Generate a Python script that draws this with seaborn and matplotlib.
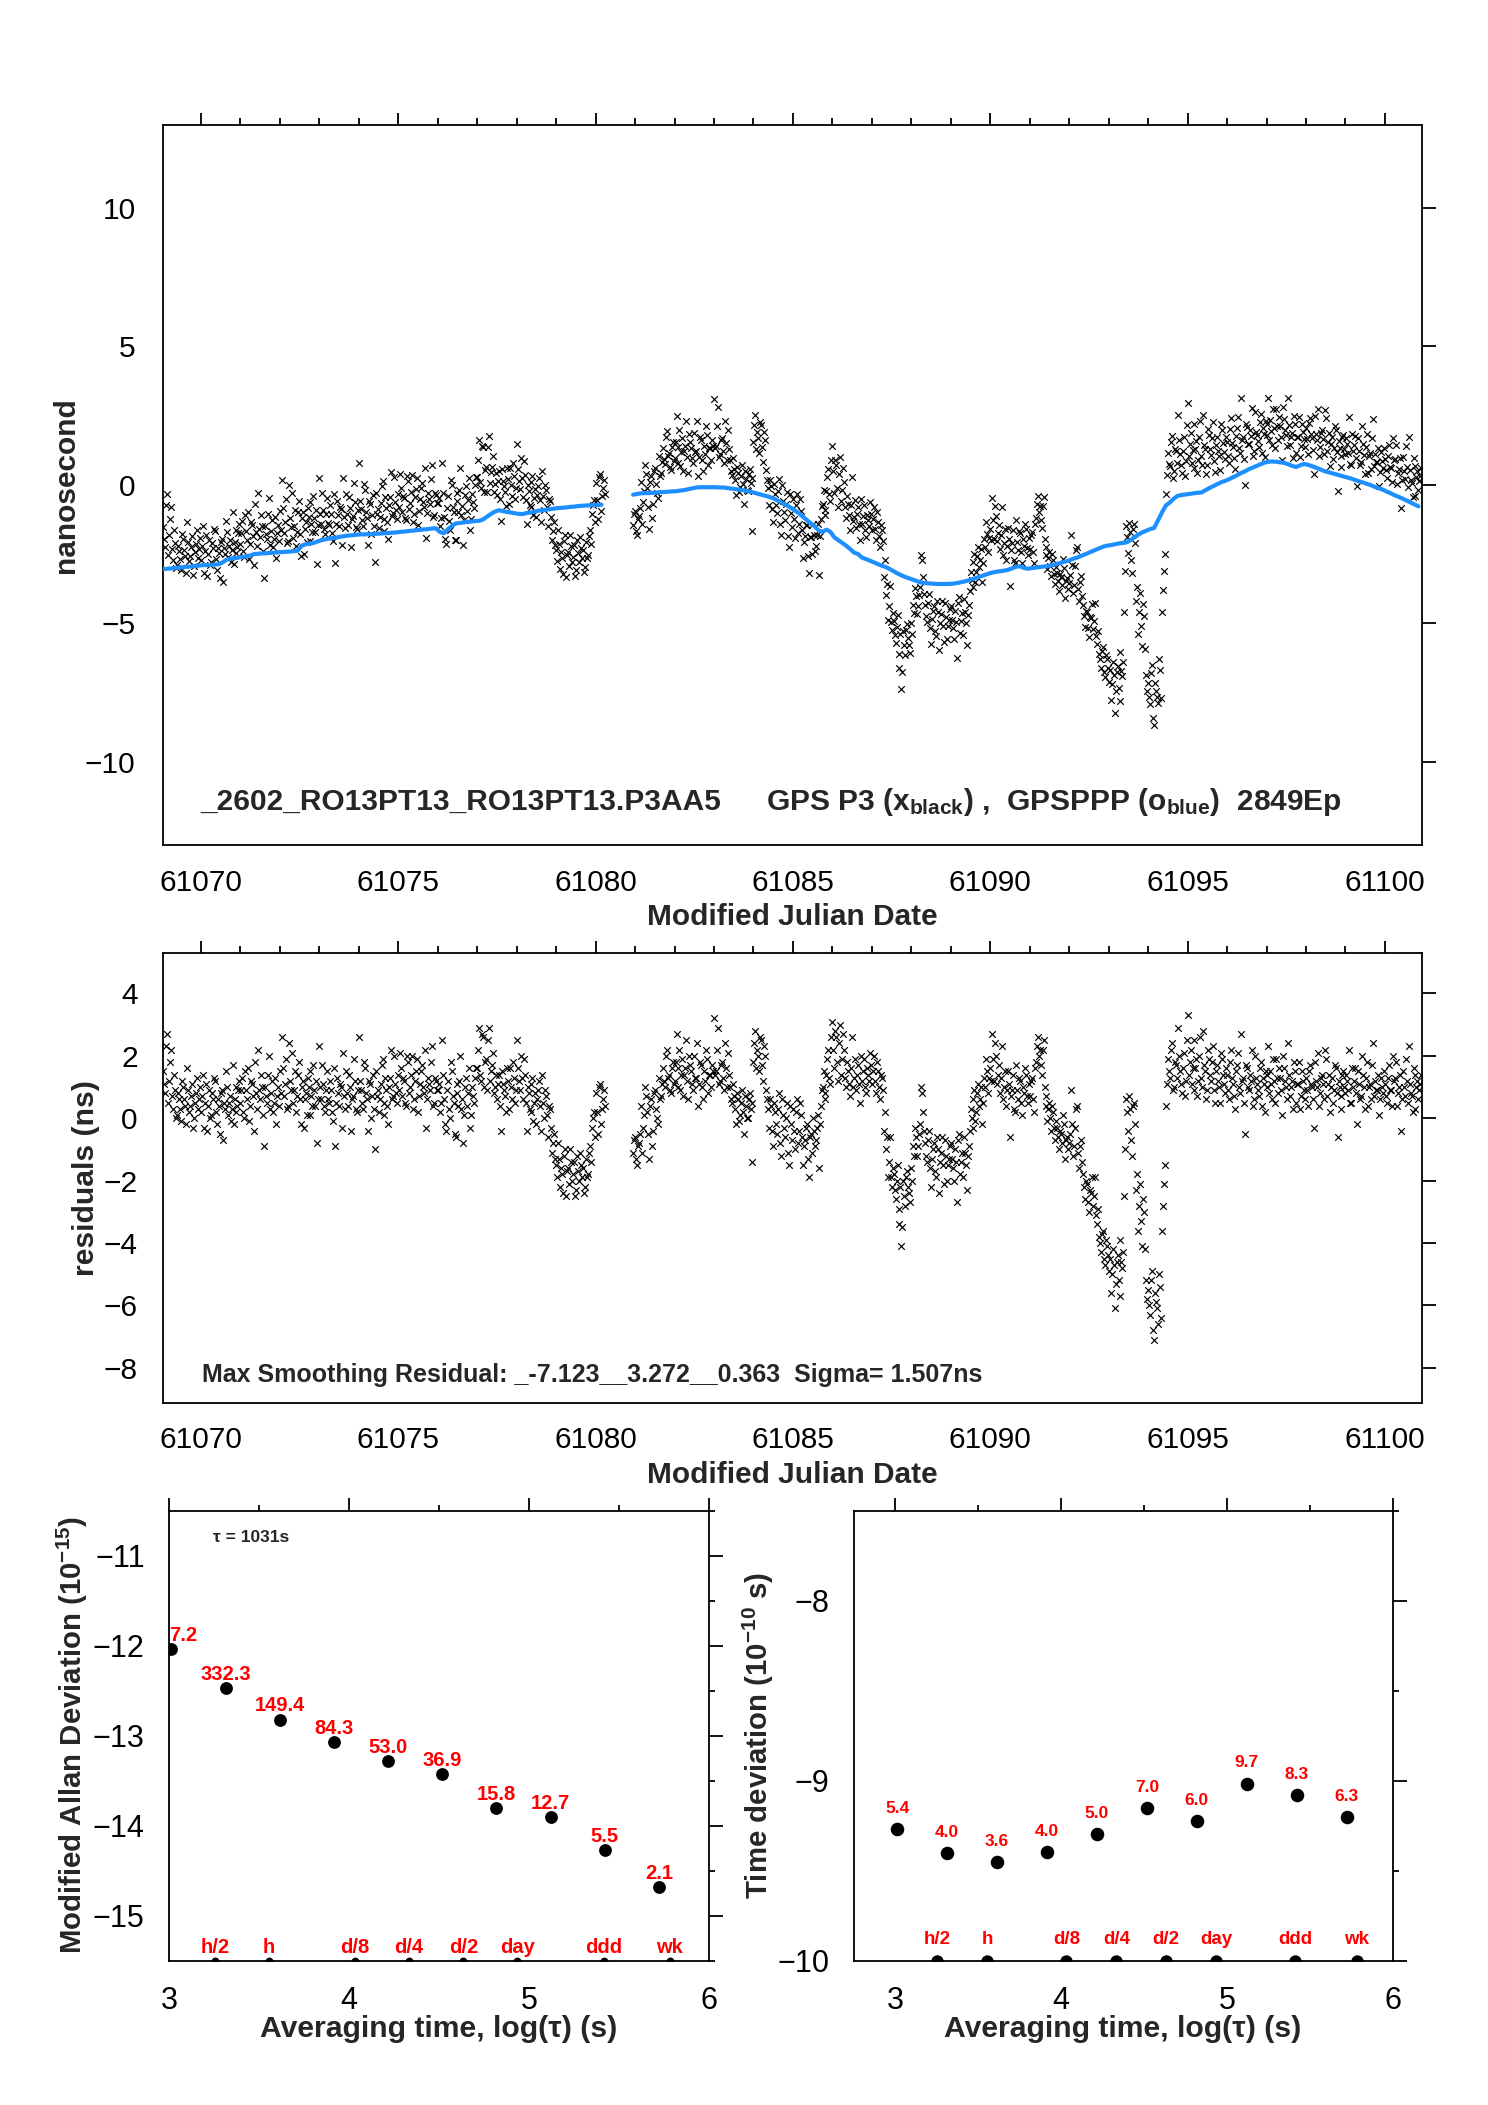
import numpy as np
import pandas as pd
import matplotlib
matplotlib.use("Agg")
import matplotlib.pyplot as plt
import seaborn as sns
from matplotlib.ticker import MultipleLocator, StrMethodFormatter

# ------------------------------------------------------------------ data
seg1_start = 61069.05      # MJD of first P3 epoch (before the gap)
seg2_start = 61080.95      # MJD of first P3 epoch (after the gap)
p3_step = 0.05             # day between epochs of one residual list
half_offset = 0.025        # the second residual list sits between the first
ppp_step = 0.10            # day between PPP epochs

# residuals (ns) = P3 - PPP, 20 epochs per day (list a)
resid_seg1 = [
    1.5, 0.8, 2.7, 1.2, 2.2, 0.3, 0.9, 0.1, 0.6, -0.1, 1.0, 0.4, 1.6, 0.2, 0.7, -0.3, 0.5, 1.3, 0.6,
    0.2, 1.4, 0.5, -0.4, 0.9, 0.1, 0.6, 1.2, -0.2, 0.4, 0.8, -0.7, 0.3, 1.0, 0.5, -0.1, 1.7, 0.6, 0.2, 0.9,
    0.5, 1.3, 0.0, 0.9, 1.6, 0.4, 1.1, -0.4, 0.8, 2.2, 0.6, 1.0, -0.9, 0.7, 1.4, 0.3, 1.2, 0.5, -0.2, 1.0,
    1.5, 2.6, 0.7, 1.9, 0.4, 1.2, 2.1, 0.9, 0.2, 1.4, 0.6, 1.0, -0.3, 0.8, 1.3, 0.1, 0.7, 1.7, 0.4, -0.8,
    2.3, 0.6, 1.1, 0.2, 1.5, 0.5, 0.9, -0.1, -0.9, 1.3, 0.4, 1.0, 2.1, 0.3, 0.8, 1.4, -0.4, 0.7, 1.2, 0.2,
    2.6, 0.9, 0.3, 1.6, 0.6, 1.2, 0.0, 1.4, -1.0, 0.7, 0.2, 1.1, 1.9, 0.5, 0.9, -0.2, 1.3, 0.6, 2.0, 0.8,
    1.4, 2.1, 0.7, 1.2, 0.4, 1.8, 1.0, 2.0, 0.6, 1.5, 0.2, 1.1, 1.7, 0.8, -0.3, 1.3, 0.9, 2.3, 0.5, 1.2,
    0.9, 0.2, 2.5, 0.6, -0.4, 1.2, 0.0, 1.5, 0.5, -0.6, 0.8, 1.2, 0.3, -0.8, 1.0, 0.4, 1.6, 0.1, 0.7, 1.3,
    1.6, 2.9, 1.2, 2.6, 1.8, 0.9, 2.9, 1.5, 2.1, 1.0, 0.6, 1.4, -0.4, 1.1, 0.7, 1.6, 0.3, 1.0, 1.8, 0.5,
    2.5, 1.2, 2.0, 0.6, 1.4, -0.4, 0.8, 0.2, 1.3, 0.5, -0.2, 0.9, 0.4, 1.4, 0.0, 0.7, -0.6, 0.3, -1.1, -0.5,
    -1.5, -0.8, -2.2, -1.8, -1.2, -2.5, -1.6, -1.0, -2.0, -1.4, -2.3, -1.7, -1.1, -1.9, -2.4, -1.3, -1.8, -0.9, -0.3, 0.2,
    0.8, -0.5, 1.1, 0.3, 0.9,
]
resid_seg2 = [
    -1.1, -0.6, -1.5, -0.8, 0.4, -0.3, 1.0, 0.2, -1.3, 0.6, -0.4, 0.9, 0.0, 1.3, 0.7, 1.6, 1.0, 2.2, 1.4, 0.8, 1.8,
    1.2, 2.7, 1.6, 0.9, 1.9, 1.4, 2.5, 0.6, 1.7, 1.1, 2.0, 1.3, 0.4, 1.8, 1.0, 1.5, 2.2, 0.8, 1.4, 1.7,
    3.2, 1.5, 2.9, 1.2, 1.8, 0.9, 1.6, 2.1, 1.0, 0.5, 0.7, -0.2, 0.6, 0.1, 0.9, -0.5, 0.4, 0.0, 0.8, -1.4,
    1.8, 2.8, 2.2, 1.5, 2.5, 1.2, 2.0, 0.6, -0.3, 0.4, -0.9, 0.2, -0.5, 0.8, -1.2, 0.1, -0.6, 0.5, -1.5, -0.2,
    0.3, -1.0, 0.6, -0.4, 0.1, -1.5, -0.7, -0.2, -1.9, -0.5, 0.0, -0.9, -0.3, -1.6, 0.4, 1.0, 0.6, 1.4, 2.2, 1.1,
    3.1, 1.6, 2.6, 1.2, 3.0, 1.9, 2.2, 1.0, 1.5, 0.7, 2.6, 1.3, 0.9, 1.7, 0.5, 1.2, 1.9, 0.8, 1.4, 2.1,
    1.1, 2.0, 0.8, 1.5, 0.6, 1.3, -0.4, -1.0, -1.9, -0.6, -2.2, -1.8, -2.6, -1.5, -3.4, -4.1, -2.0, -2.8, -1.7, -2.4,
    -1.6, -0.9, -0.3, -1.2, -0.5, 1.0, 0.2, -0.8, -1.4, -0.4, -2.2, -1.0, -1.7, -0.6, -2.4, -1.1, -1.5, -0.7, -2.0, -1.3,
    -0.8, -1.6, -1.0, -2.7, -0.5, -1.4, -1.9, -1.1, -2.3, -0.9, 0.3, -0.3, 0.9, 0.2, 1.1, 0.6, -0.2, 1.3, 1.9, 0.8,
    1.6, 2.7, 1.2, 2.0, 1.4, 0.8, 2.3, 1.0, 0.4, 1.5, -0.6, 0.9, 0.3, 1.7, 0.6, 1.2, 0.1, 0.8, 1.4, 0.5,
    0.7, 1.3, 0.2, 1.8, 2.6, 2.2, 1.4, 2.5, 0.4, -0.1, 0.5, -0.4, 0.2, -0.7, -0.3, -1.0, -0.5, 0.1, -1.3, -0.6,
    -0.8, 0.9, -1.2, -0.3, 0.4, -1.6, -0.7, -1.8, -2.6, -2.1, -3.0, -2.4, -2.8, -1.9, -3.4, -3.8, -4.3, -3.6, -4.7, -4.1,
    -4.9, -5.6, -4.2, -6.1, -4.6, -5.2, -3.9, -4.8, -2.5, 0.6, -0.4, 0.3, -1.2, 0.5, -2.3, -3.6, -2.1, -4.1, -3.0, -5.2,
    -5.5, -6.3, -4.9, -7.1, -5.9, -6.6, -5.4, -3.6, -2.1, 0.4, 1.9, 1.3, 2.4, 1.0, 1.7, 2.9, 1.5, 0.8, 2.1, 1.2,
    3.3, 1.8, 1.1, 2.5, 1.6, 0.7, 2.0, 1.3, 2.8, 1.5, 0.9, 1.9, 1.2, 2.3, 0.5, 1.7, 1.0, 2.1, 1.4, 0.8,
    1.4, 0.6, 2.2, 1.1, 0.3, 1.7, 1.0, 2.7, 1.3, -0.5, 1.6, 0.9, 1.2, 0.4, 2.0, 1.1, 0.7, 1.8, 1.3, 0.2,
    1.0, 2.3, 1.5, 0.6, 1.2, 1.9, 0.8, 1.3, 0.1, 1.6, 1.0, 2.4, 0.7, 1.2, 1.8, 0.5, 1.1, 0.3, 1.5, 0.9,
    1.3, 0.4, 1.7, 1.0, -0.3, 1.2, 2.1, 0.8, 1.4, 0.6, 1.9, 1.1, 0.2, 1.3, 0.9, 1.6, -0.6, 1.0, 0.7, 1.5,
    0.8, 1.2, 2.2, 0.5, 1.0, 1.6, -0.2, 1.1, 0.7, 1.4, 0.3, 1.8, 1.0, 0.6, 2.4, 1.2, 0.9, 0.1, 1.3, 0.8,
    1.1, 0.5, 1.7, 0.9, 2.0, 1.3, 0.4, 1.0, -0.4, 1.5, 0.7, 1.2, 2.3, 0.8, 0.2, 1.4, 1.0, 0.6, 1.1,
]
# residuals (ns), list b (epochs half a step later)
resid2_seg1 = [
    1.1, 2.3, 0.5, 1.8, 0.7, 1.4, 0.0, 0.8, 0.3, 1.2, 0.6, -0.2, 0.9, 0.4, 1.1, 0.0, 0.8, 0.3, 1.0,
    0.7, -0.3, 1.1, 0.4, 0.0, 0.8, 1.3, 0.2, 0.6, -0.5, 0.9, 0.5, 1.5, 0.1, 0.7, 0.3, -0.2, 1.0, 0.4, 1.2,
    0.9, 0.2, 1.5, 0.6, -0.1, 1.2, 0.7, 1.8, 0.3, 0.9, 1.4, 0.1, 1.0, 0.5, 2.0, 0.8, 0.2, 1.3, 0.7, 0.4,
    0.8, 1.6, 1.1, 0.3, 2.4, 0.9, 0.5, 1.5, 0.7, 1.8, -0.2, 1.2, 0.6, 0.1, 1.0, 1.5, 0.4, 0.9, 1.2, 0.6,
    1.0, 1.7, 0.4, 0.9, 0.6, 1.2, 0.2, 1.6, 0.5, 0.8, 1.1, -0.3, 0.7, 1.5, 0.4, 1.0, 0.6, 1.9, 0.3, 0.9,
    1.2, 0.5, 1.8, 0.8, -0.4, 1.1, 0.7, 0.3, 1.5, 0.9, 0.6, 1.7, 0.1, 1.3, 0.4, 1.0, 2.2, 0.7, 1.1, 0.5,
    0.9, 1.6, 1.3, 0.5, 2.0, 0.8, 1.4, 0.3, 1.2, 1.9, 0.7, 1.5, 1.0, 2.2, 0.6, 1.1, 1.8, 0.4, 1.3, 0.9,
    1.1, 0.5, 1.4, -0.2, 0.9, 0.3, 1.8, 0.7, -0.5, 1.1, 0.4, 2.0, 0.6, 0.1, 1.3, 0.8, -0.3, 1.0, 0.5, 1.6,
    2.2, 1.4, 2.7, 1.0, 1.9, 2.5, 1.2, 1.7, 0.8, 1.4, 1.1, 0.4, 1.5, 0.9, 0.2, 1.2, 1.6, 0.6, 1.3, 0.9,
    1.6, 0.9, 1.3, 1.9, 0.5, 1.0, 0.3, 1.1, -0.1, 0.8, 0.6, 1.2, -0.4, 0.5, 0.9, 0.1, 0.4, -0.3, -0.8, -1.3,
    -1.9, -1.3, -1.6, -2.4, -1.0, -1.7, -2.1, -1.4, -1.8, -2.5, -1.2, -2.0, -1.5, -1.6, -2.2, -1.9, -1.1, -1.4, 0.0, -0.6,
    0.2, 1.0, -0.2, 0.6, 0.4,
]
resid2_seg2 = [
    -0.7, -1.3, -0.9, -0.5, -1.1, 0.1, 0.7, -0.5, 0.4, -0.9, 0.8, 0.3, -0.2, 0.6, 1.1, 1.2, 2.0, 1.3, 0.9, 1.6, 1.1,
    1.8, 1.0, 2.2, 1.4, 0.7, 1.6, 1.2, 2.0, 1.5, 0.9, 1.3, 2.4, 1.1, 1.7, 0.6, 1.2, 1.9, 1.4, 1.0, 1.5,
    1.4, 2.2, 1.1, 1.7, 1.3, 2.4, 1.0, 1.4, 0.6, 1.1, 0.3, 0.8, -0.1, 0.5, 0.2, 0.7, 0.0, 0.6, 0.3, 0.5,
    2.4, 1.6, 2.0, 2.6, 1.7, 2.3, 0.9, 0.3, 0.6, -0.4, 0.5, -0.2, 0.3, -0.8, 0.6, -0.3, 0.0, -1.1, 0.4, -0.7,
    -0.4, 0.2, -0.8, 0.5, -0.6, -0.9, -0.3, -1.3, -0.6, -1.1, -0.4, -0.7, 0.1, -0.2, 0.9, 1.5, 0.8, 1.9, 1.3, 2.6,
    2.2, 2.8, 1.8, 2.4, 1.4, 2.7, 1.3, 1.8, 1.1, 1.6, 1.0, 1.9, 1.4, 1.1, 2.0, 1.5, 1.0, 1.6, 1.2, 1.7,
    1.5, 1.2, 1.8, 1.0, 1.4, 0.9, 0.2, -0.6, -1.4, -1.9, -1.6, -2.3, -2.0, -2.9, -2.2, -3.5, -2.5, -1.9, -2.2, -2.7,
    -2.0, -1.2, -0.6, -0.9, -0.2, 0.8, -0.4, -1.2, -0.7, -1.6, -1.3, -0.8, -1.9, -1.0, -1.4, -0.6, -2.1, -1.2, -1.5, -0.9,
    -1.3, -2.0, -1.4, -0.7, -1.8, -1.1, -0.6, -1.5, -1.2, -0.4, 0.0, 0.6, -0.1, 0.8, 0.4, 1.0, 0.5, 1.0, 1.5, 1.3,
    1.2, 1.9, 2.4, 1.1, 1.7, 1.3, 0.6, 1.5, 0.9, 1.1, 0.7, 1.4, 0.2, 0.9, 1.3, 0.5, 1.0, 1.6, 0.7, 1.1,
    1.2, 0.6, 1.6, 2.3, 2.0, 1.7, 2.2, 1.0, 0.7, 0.3, 0.0, 0.4, -0.3, -0.1, -0.6, -0.4, -0.8, -0.2, -0.7, -1.0,
    -0.5, -0.2, -0.9, 0.3, -1.1, -0.9, -1.4, -2.2, -2.0, -2.7, -2.3, -1.9, -2.5, -3.1, -2.9, -4.0, -3.7, -4.5, -3.9, -4.4,
    -4.5, -5.0, -4.7, -5.3, -4.4, -5.7, -4.6, -4.3, -1.0, 0.2, 0.7, -0.7, 0.4, -0.2, -1.8, -2.8, -3.3, -2.6, -4.2, -5.8,
    -6.0, -5.2, -6.8, -5.6, -6.1, -5.0, -6.4, -2.8, -1.5, 1.1, 1.5, 2.2, 0.9, 1.8, 1.3, 2.0, 1.1, 1.6, 0.7, 2.5,
    1.4, 2.2, 1.6, 0.9, 1.9, 1.2, 2.6, 1.0, 1.7, 0.6, 2.2, 1.4, 1.8, 0.9, 1.5, 1.2, 0.5, 1.9, 1.1, 1.6,
    0.9, 1.8, 1.3, 0.7, 1.5, 2.1, 0.8, 1.2, 0.5, 1.7, 1.0, 1.4, 2.2, 0.6, 1.3, 0.9, 1.6, 0.4, 1.1, 1.5,
    1.4, 0.8, 1.1, 1.9, 0.5, 1.3, 1.6, 0.9, 2.0, 1.2, 0.6, 1.4, 1.0, 0.3, 1.5, 1.1, 1.8, 0.7, 1.2, 0.6,
    0.9, 1.5, 1.1, 0.6, 1.8, 1.0, 0.4, 1.3, 1.1, 2.2, 0.7, 1.4, 1.0, 0.5, 1.7, 0.8, 1.2, 0.3, 1.4, 1.0,
    1.4, 0.9, 0.5, 1.6, 1.2, 0.8, 1.5, 0.6, 2.0, 1.0, 1.3, 0.4, 1.1, 1.7, 0.7, 0.9, 1.4, 0.6, 1.0, 1.5,
    0.7, 1.3, 0.9, 0.4, 1.2, 1.8, 0.8, 1.4, 0.6, 1.0, 1.9, 0.5, 1.1, 0.7, 1.6, 0.3, 1.2, 0.9, 1.4,
]

# GPSPPP (ns), 10 epochs per day
ppp_seg1 = [
    -3.04, -3.03, -3.02, -3.00, -2.99, -2.97, -2.96, -2.95, -2.93, -2.92,
    -2.90, -2.90, -2.89, -2.88, -2.87, -2.80, -2.70, -2.67, -2.65, -2.63,
    -2.60, -2.58, -2.55, -2.50, -2.49, -2.48, -2.47, -2.46, -2.45, -2.44,
    -2.43, -2.42, -2.41, -2.40, -2.38, -2.20, -2.15, -2.12, -2.10, -2.05,
    -2.00, -1.97, -1.94, -1.92, -1.90, -1.87, -1.85, -1.83, -1.82, -1.80,
    -1.79, -1.79, -1.78, -1.78, -1.77, -1.76, -1.75, -1.74, -1.73, -1.72,
    -1.70, -1.69, -1.67, -1.66, -1.64, -1.63, -1.61, -1.60, -1.58, -1.57,
    -1.70, -1.75, -1.62, -1.50, -1.40, -1.38, -1.36, -1.34, -1.33, -1.31,
    -1.30, -1.25, -1.15, -1.05, -0.97, -0.92, -0.95, -0.98, -1.00, -1.03,
    -1.05, -1.06, -1.02, -1.00, -0.97, -0.94, -0.92, -0.90, -0.88, -0.86,
    -0.84, -0.83, -0.82, -0.80, -0.79, -0.77, -0.76, -0.75, -0.74, -0.74,
    -0.73, -0.72,
]
ppp_seg2 = [
    -0.36, -0.33, -0.31, -0.30, -0.30, -0.29, -0.28, -0.27, -0.26, -0.25, -0.24,
    -0.23, -0.21, -0.19, -0.16, -0.13, -0.10, -0.09, -0.09, -0.09, -0.09,
    -0.09, -0.10, -0.10, -0.12, -0.14, -0.16, -0.18, -0.20, -0.23, -0.26,
    -0.30, -0.34, -0.38, -0.42, -0.46, -0.52, -0.60, -0.68, -0.75, -0.83,
    -0.93, -1.03, -1.15, -1.27, -1.40, -1.50, -1.65, -1.70, -1.62, -1.70,
    -1.90, -2.00, -2.10, -2.20, -2.32, -2.45, -2.50, -2.63, -2.68, -2.74,
    -2.80, -2.86, -2.92, -2.97, -3.04, -3.12, -3.20, -3.27, -3.33, -3.38,
    -3.43, -3.48, -3.53, -3.55, -3.56, -3.57, -3.58, -3.58, -3.58, -3.58,
    -3.57, -3.55, -3.52, -3.49, -3.45, -3.40, -3.36, -3.31, -3.26, -3.21,
    -3.17, -3.14, -3.12, -3.10, -3.07, -3.02, -2.96, -2.94, -3.00, -3.03,
    -3.01, -2.99, -2.97, -2.95, -2.94, -2.91, -2.87, -2.83, -2.79, -2.75,
    -2.70, -2.65, -2.60, -2.54, -2.48, -2.42, -2.36, -2.30, -2.24, -2.20,
    -2.18, -2.15, -2.12, -2.10, -2.08, -2.00, -1.90, -1.80, -1.72, -1.66,
    -1.60, -1.56, -1.29, -1.00, -0.75, -0.64, -0.50, -0.40, -0.37, -0.35,
    -0.33, -0.31, -0.29, -0.28, -0.20, -0.12, -0.05, 0.02, 0.09, 0.14,
    0.20, 0.27, 0.34, 0.42, 0.48, 0.56, 0.62, 0.68, 0.74, 0.80,
    0.83, 0.84, 0.83, 0.81, 0.79, 0.74, 0.68, 0.64, 0.70, 0.75,
    0.72, 0.67, 0.62, 0.56, 0.50, 0.46, 0.42, 0.38, 0.34, 0.30,
    0.26, 0.22, 0.17, 0.12, 0.08, 0.03, -0.02, -0.08, -0.13, -0.18,
    -0.25, -0.31, -0.38, -0.44, -0.50, -0.57, -0.64, -0.71, -0.78,
]

# stability panels
log_tau = [3.013, 3.314, 3.615, 3.916, 4.217, 4.518, 4.819, 5.120, 5.421, 5.722]
log_mdev = [-12.04, -12.47, -12.82, -13.07, -13.28, -13.43, -13.80, -13.90, -14.27, -14.68]
mdev_labels = ["7.2", "332.3", "149.4", "84.3", "53.0", "36.9", "15.8", "12.7", "5.5", "2.1"]
log_tdev = [-9.267, -9.403, -9.451, -9.396, -9.297, -9.153, -9.223, -9.016, -9.080, -9.201]
tdev_labels = ["5.4", "4.0", "3.6", "4.0", "5.0", "7.0", "6.0", "9.7", "8.3", "6.3"]
mark_names = ["h/2", "h", "d/8", "d/4", "d/2", "day", "ddd", "wk"]
mark_log_tau = [3.255, 3.556, 4.033, 4.334, 4.635, 4.936, 5.414, 5.782]

title_left = "_2602_RO13PT13_RO13PT13.P3AA5"
title_right = r"GPS P3 (x$_{\mathbf{black}}$) ,  GPSPPP (o$_{\mathbf{blue}}$)  2849Ep"
resid_note = "Max Smoothing Residual: _-7.123__3.272__0.363  Sigma= 1.507ns"
tau0_note = "τ = 1031s"

# ------------------------------------------------------------------ frames
def p3_frame(resid, ppp, start):
    r = np.asarray(resid, float)
    base = np.repeat(np.asarray(ppp, float), 2)
    n = min(len(r), len(base))
    t = start + p3_step * np.arange(n)
    return pd.DataFrame({"mjd": t, "resid": r[:n], "p3": r[:n] + base[:n]})

def ppp_frame(ppp, start, seg):
    v = np.asarray(ppp, float)
    return pd.DataFrame({"mjd": start + ppp_step * np.arange(len(v)), "ns": v, "seg": seg})

df_p3 = pd.concat([p3_frame(resid_seg1, ppp_seg1, seg1_start),
                   p3_frame(resid2_seg1, ppp_seg1, seg1_start + half_offset),
                   p3_frame(resid_seg2, ppp_seg2, seg2_start),
                   p3_frame(resid2_seg2, ppp_seg2, seg2_start + half_offset)], ignore_index=True)
df_ppp = pd.concat([ppp_frame(ppp_seg1, seg1_start, 1),
                    ppp_frame(ppp_seg2, seg2_start, 2)], ignore_index=True)
df_mdev = pd.DataFrame({"x": log_tau, "y": log_mdev})
df_tdev = pd.DataFrame({"x": log_tau, "y": log_tdev})

# ------------------------------------------------------------------ style
sns.set_theme(style="white")
plt.rcParams["font.family"] = ["Liberation Sans", "DejaVu Sans"]
plt.rcParams["mathtext.fontset"] = "custom"
plt.rcParams["mathtext.rm"] = "Liberation Sans"
plt.rcParams["mathtext.bf"] = "Liberation Sans:bold"
plt.rcParams["mathtext.it"] = "Liberation Sans:italic"
plt.rcParams["axes.unicode_minus"] = True

W, H = 1488, 2105
fig = plt.figure(figsize=(W / 100, H / 100), dpi=100)
fig.patch.set_facecolor("white")

def box(l, t, r, b):
    return [l / W, 1 - b / H, (r - l) / W, (b - t) / H]

ax1 = fig.add_axes(box(162.7, 124.5, 1422, 845))
ax2 = fig.add_axes(box(162.7, 953.2, 1422, 1403))
ax3 = fig.add_axes(box(169, 1510.8, 709, 1960.6))
ax4 = fig.add_axes(box(853.5, 1510.8, 1392.7, 1960.6))

for ax in (ax1, ax2, ax3, ax4):
    ax.set_facecolor("white")
    for s in ax.spines.values():
        s.set_linewidth(1.3)
        s.set_color("black")
        s.set_visible(True)
    ax.tick_params(which="both", direction="out", top=True, right=True,
                   labeltop=False, labelright=False, width=1.3, colors="black")
    ax.grid(False)
for ax in (ax1, ax2):
    ax.tick_params(labelsize=21.5)
for ax in (ax3, ax4):
    ax.tick_params(labelsize=22)

# ---------------- top panel
sns.scatterplot(data=df_p3, x="mjd", y="p3", marker="x", color="black", s=22,
                linewidth=0.85, ax=ax1, legend=False, zorder=2)
sns.lineplot(data=df_ppp, x="mjd", y="ns", units="seg", estimator=None,
             color="#1e8fff", linewidth=3.0, ax=ax1, legend=False, zorder=3)
ax1.set_xlim(61069.03, 61100.94)
ax1.set_ylim(-13, 13)
ax1.xaxis.set_major_locator(MultipleLocator(5))
ax1.xaxis.set_minor_locator(MultipleLocator(1))
ax1.yaxis.set_major_locator(MultipleLocator(5))
ax1.xaxis.set_major_formatter(StrMethodFormatter("{x:.0f}"))
ax1.tick_params(axis="x", which="major", length=8.6, pad=9.0)
ax1.tick_params(axis="x", which="minor", length=4.7)
ax1.tick_params(axis="y", which="major", length=10, pad=9.5)
ax1.set_xlabel("")
ax1.set_ylabel("")
ax1.text(61069.97, -11.73, title_left, fontsize=21.5, fontweight="bold", ha="left", va="baseline")
ax1.text(61084.32, -11.73, title_right, fontsize=21.5, fontweight="bold", ha="left", va="baseline")

# ---------------- residual panel
sns.scatterplot(data=df_p3, x="mjd", y="resid", marker="x", color="black", s=22,
                linewidth=0.85, ax=ax2, legend=False)
ax2.set_xlim(61069.03, 61100.94)
ax2.set_ylim(-9.13, 5.29)
ax2.xaxis.set_major_locator(MultipleLocator(5))
ax2.xaxis.set_minor_locator(MultipleLocator(1))
ax2.yaxis.set_major_locator(MultipleLocator(2))
ax2.xaxis.set_major_formatter(StrMethodFormatter("{x:.0f}"))
ax2.tick_params(axis="x", which="major", length=8.6, pad=8)
ax2.tick_params(axis="x", which="minor", length=4.7)
ax2.tick_params(axis="y", which="major", length=10, pad=8)
ax2.set_xlabel("")
ax2.set_ylabel("")
ax2.text(61070.03, -8.45, resid_note, fontsize=18, fontweight="bold", ha="left", va="baseline")

# ---------------- modified Allan deviation
mdev_ylim = (-15.5, -10.5)
sns.scatterplot(data=df_mdev, x="x", y="y", color="black", s=85, linewidth=0, ax=ax3, legend=False)
sns.scatterplot(x=mark_log_tau, y=[mdev_ylim[0]] * len(mark_log_tau), color="black", s=32,
                linewidth=0, ax=ax3, legend=False)
ax3.set_xlim(3, 6)
ax3.set_ylim(*mdev_ylim)
for i, (x, y, lab) in enumerate(zip(log_tau, log_mdev, mdev_labels)):
    if i == 0:
        ax3.text(3.003, y + 0.09, lab, color="red", fontsize=14.5, fontweight="bold", ha="left", va="baseline")
    else:
        ax3.text(x, y + 0.09, lab, color="red", fontsize=14.5, fontweight="bold", ha="center", va="baseline")
for x, lab in zip(mark_log_tau, mark_names):
    ax3.text(x, mdev_ylim[0] + 0.09, lab, color="red", fontsize=14.5, fontweight="bold", ha="center", va="baseline")
ax3.text(3.244, -10.85, tau0_note, fontsize=12.5, fontweight="bold", ha="left", va="baseline")

# ---------------- time deviation
tdev_ylim = (-10, -7.5)
sns.scatterplot(data=df_tdev, x="x", y="y", color="black", s=95, linewidth=0, ax=ax4, legend=False)
sns.scatterplot(x=mark_log_tau, y=[tdev_ylim[0]] * len(mark_log_tau), color="black", s=80,
                linewidth=0, ax=ax4, legend=False)
ax4.set_xlim(2.75, 6)
ax4.set_ylim(*tdev_ylim)
for x, y, lab in zip(log_tau, log_tdev, tdev_labels):
    ax4.text(x, y + 0.09, lab, color="red", fontsize=12.5, fontweight="bold", ha="center", va="baseline")
for x, lab in zip(mark_log_tau, mark_names):
    ax4.text(x, tdev_ylim[0] + 0.09, lab, color="red", fontsize=13.5, fontweight="bold", ha="center", va="baseline")

for ax in (ax3, ax4):
    ax.xaxis.set_major_locator(MultipleLocator(1))
    ax.xaxis.set_minor_locator(MultipleLocator(0.5))
    ax.yaxis.set_major_locator(MultipleLocator(1))
    ax.yaxis.set_minor_locator(MultipleLocator(0.5))
    ax.tick_params(axis="x", which="major", length=9.4, pad=9)
    ax.tick_params(axis="x", which="minor", length=4.3)
    ax.tick_params(axis="y", which="major", length=10, pad=7.5)
    ax.tick_params(axis="y", which="minor", length=4.3)
    ax.set_xlabel("")
    ax.set_ylabel("")

# ---------------- axis titles (figure coordinates from pixel positions)
def ftext(px, py, s, **kw):
    fig.text(px / W, 1 - py / H, s, ha="center", va="center", fontweight="bold", **kw)

ftext(66, 485, "nanosecond", fontsize=21.5, rotation=90)
ftext(792, 917, "Modified Julian Date", fontsize=21.5)
ftext(86, 1178, "residuals (ns)", fontsize=21.7, rotation=90)
ftext(792, 1475, "Modified Julian Date", fontsize=21.5)
ftext(72, 1735, r"Modified Allan Deviation (10$^{\mathbf{-15}}$)", fontsize=21.2, rotation=90)
ftext(758, 1735, r"Time deviation (10$^{\mathbf{-10}}$ s)", fontsize=21.2, rotation=90)
ftext(439, 2029, "Averaging time, log(τ) (s)", fontsize=21.7)
ftext(1123, 2029, "Averaging time, log(τ) (s)", fontsize=21.7)

fig.savefig("out.png", dpi=100, facecolor="white")
